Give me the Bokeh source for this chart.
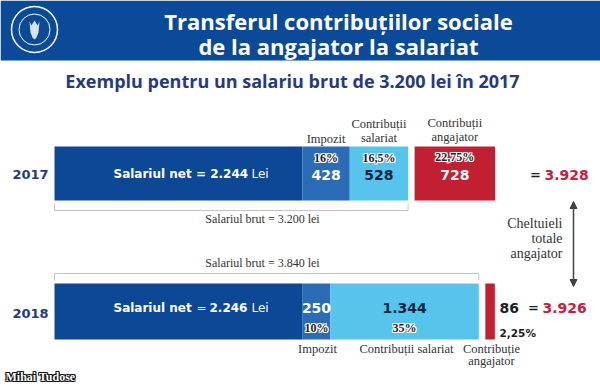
from bokeh.plotting import figure
from bokeh.models import Range1d, Arrow, NormalHead
from bokeh.core.properties import value
from bokeh.embed import file_html
from bokeh.resources import INLINE

# ---------------- data ----------------
years = ["2017", "2018"]
net = [2244, 2246]
impozit = [428, 250]
contrib_salariat = [528, 1344]
contrib_angajator = [728, 86]
impozit_pct = ["16%", "10%"]
salariat_pct = ["16,5%", "35%"]
angajator_pct = ["22,75%", "2,25%"]

title1 = "Transferul contribuțiilor sociale"
title2 = "de la angajator la salariat"
subtitle = "Exemplu pentru un salariu brut de 3.200 lei în 2017"
author = "Mihai Tudose"


def ro(v):
    return f"{v:,}".replace(",", ".")


brut = [n + i + c for n, i, c in zip(net, impozit, contrib_salariat)]
total = [b + a for b, a in zip(brut, contrib_angajator)]

# ---------------- styles ----------------
C_HEAD = "#0b4a98"
C_NET = "#0c4896"
C_IMP = "#2b6cb6"
C_SAL = "#56c4eb"
C_RED = "#c11f32"
C_NAVY = "#253b80"
C_RTXT = "#c8203a"
C_DARK = "#1e1e1e"
C_GRAY = "#c4c4c4"
C_SERIF = "#333333"

SANS = value("Open Sans")
WIDE = value("DejaVu Sans")
SERIF = value("Liberation Serif")

S = 0.1105   # pixels per leu
X0 = 54      # page x of 0 lei
W, H = 600, 388


def px(x):
    return (x - X0) / S


p = figure(width=W, height=H, output_backend="svg", toolbar_location=None,
           x_range=Range1d(px(0), px(W)), y_range=Range1d(H, 0),
           min_border=0, outline_line_color=None)
p.axis.visible = False
p.grid.visible = False
p.background_fill_color = "white"


def txt(x, y, t, size, color, font=SANS, style="bold", align="center", baseline="middle"):
    p.text(x=[x], y=[y], text=[t], text_font=font, text_font_size=size,
           text_font_style=style, text_color=color, text_align=align,
           text_baseline=baseline)


def halo(x, y, t, size, fill, edge, font=SERIF, style="bold", align="center"):
    for dx, dy in [(-1, 0), (1, 0), (0, -1), (0, 1), (-1, -1), (1, 1), (-1, 1), (1, -1)]:
        p.text(x=[x], y=[y], text=[t], x_offset=dx, y_offset=dy, text_font=font,
               text_font_size=size, text_font_style=style, text_color=edge,
               text_align=align, text_baseline="middle")
    txt(x, y, t, size, fill, font=font, style=style, align=align)


# ---------------- header ----------------
p.quad(left=[px(0)], right=[px(600)], top=[0], bottom=[60], fill_color=C_HEAD, line_color=None)
p.scatter(x=[px(34)], y=[29], size=46, fill_color=None, line_color="white", line_width=1.5)
p.scatter(x=[px(34)], y=[29], size=31, fill_color=None, line_color="white", line_width=1)
ex = [29, 31, 34, 37, 39, 38, 36, 34, 32, 30]
ey = [21, 25, 20, 25, 21, 32, 37, 39, 37, 32]
p.patch(x=[px(v) for v in ex], y=ey, fill_color="white", fill_alpha=0.85, line_color=None)
txt(px(338), 20, title1, "22px", "white")
txt(px(338), 45, title2, "22px", "white")
txt(px(292), 80, subtitle, "18px", C_NAVY)

# ---------------- bars ----------------
row_top = [146, 283]
row_bot = [200, 339]
gap = 6.5 / S

for k in range(2):
    a0 = 0
    a1 = a0 + net[k]
    a2 = a1 + impozit[k]
    a3 = a2 + contrib_salariat[k]
    a4 = a3 + gap
    a5 = a4 + contrib_angajator[k]
    p.quad(left=[a0, a1, a2, a4], right=[a1, a2, a3, a5],
           top=[row_top[k]] * 4, bottom=[row_bot[k]] * 4,
           fill_color=[C_NET, C_IMP, C_SAL, C_RED], line_color=None)

# ---- 2017 row ----
txt(px(30), 174, years[0], "13px", C_NAVY, font=WIDE)
txt(px(113), 173, "Salariul net = " + ro(net[0]), "12px", "white", font=WIDE, align="left")
txt(px(251), 173, "Lei", "12px", "white", font=WIDE, style="normal", align="left")
c_imp = net[0] + impozit[0] / 2
c_sal = net[0] + impozit[0] + contrib_salariat[0] / 2
c_ang = brut[0] + gap + contrib_angajator[0] / 2
halo(c_imp, 157, impozit_pct[0], "12px", C_DARK, "white")
halo(c_sal, 157, salariat_pct[0], "12px", C_DARK, "white")
halo(c_ang, 156, angajator_pct[0], "12px", C_DARK, "white")
txt(c_imp, 174, ro(impozit[0]), "14px", "white", font=WIDE)
txt(c_sal, 174, ro(contrib_salariat[0]), "14px", "#10233f", font=WIDE)
txt(c_ang, 174, ro(contrib_angajator[0]), "14px", "white", font=WIDE)
txt(c_imp, 138, "Impozit", "12.5px", C_SERIF, font=SERIF, style="normal")
txt(c_sal, 123, "Contribuții", "12.5px", C_SERIF, font=SERIF, style="normal")
txt(c_sal, 137, "salariat", "12.5px", C_SERIF, font=SERIF, style="normal")
txt(c_ang, 122, "Contribuții", "12.5px", C_SERIF, font=SERIF, style="normal")
txt(c_ang, 136, "angajator", "12.5px", C_SERIF, font=SERIF, style="normal")
txt(px(535), 174, "=", "13px", C_DARK, font=WIDE)
txt(px(544), 174, ro(total[0]), "14px", C_RTXT, font=WIDE, align="left")

# bracket 2017
p.segment(x0=[0, 0, brut[0]], y0=[210, 203, 203], x1=[brut[0], 0, brut[0]], y1=[210, 210, 210],
          line_color=C_GRAY, line_width=1)
txt(px(262), 218, "Salariul brut = " + ro(brut[0]) + " lei", "12px", C_SERIF,
    font=SERIF, style="normal")

# ---- 2018 row ----
txt(px(30), 313, years[1], "13px", C_NAVY, font=WIDE)
txt(px(113), 307, "Salariul net", "12px", "white", font=WIDE, align="left")
txt(px(201), 307, "=", "12px", "white", font=WIDE, style="normal")
txt(px(209), 307, ro(net[1]), "12px", "white", font=WIDE, align="left")
txt(px(251), 307, "Lei", "12px", "white", font=WIDE, style="normal", align="left")
d_imp = net[1] + impozit[1] / 2
d_sal = net[1] + impozit[1] + contrib_salariat[1] / 2
txt(d_imp, 307, ro(impozit[1]), "14px", "white", font=WIDE)
txt(d_sal, 307, ro(contrib_salariat[1]), "14px", "#10233f", font=WIDE)
halo(d_imp, 327, impozit_pct[1], "12px", C_DARK, "white")
halo(d_sal, 327, salariat_pct[1], "12px", C_DARK, "white")
txt(px(499), 307, ro(contrib_angajator[1]), "14px", C_DARK, font=WIDE, align="left")
txt(px(499), 332, angajator_pct[1], "10.5px", C_DARK, font=WIDE, align="left")
txt(px(533), 307, "=", "13px", C_DARK, font=WIDE)
txt(px(542), 307, ro(total[1]), "14px", C_RTXT, font=WIDE, align="left")
txt(px(317), 348, "Impozit", "12.5px", C_SERIF, font=SERIF, style="normal")
txt(px(406), 348, "Contribuții salariat", "12.5px", C_SERIF, font=SERIF, style="normal")
txt(px(491), 348, "Contribuție", "12.5px", C_SERIF, font=SERIF, style="normal")
txt(px(491), 360, "angajator", "12.5px", C_SERIF, font=SERIF, style="normal")

# bracket 2018
p.segment(x0=[0, 0, brut[1]], y0=[273, 273, 273], x1=[brut[1], 0, brut[1]], y1=[273, 280, 280],
          line_color=C_GRAY, line_width=1)
txt(px(262), 262, "Salariul brut = " + ro(brut[1]) + " lei", "12px", C_SERIF,
    font=SERIF, style="normal")

# ---- arrow & note ----
p.add_layout(Arrow(x_start=px(573), y_start=286, x_end=px(573), y_end=201,
                   line_color="#444444", line_width=1.5,
                   end=NormalHead(size=7, fill_color="#444444", line_color="#444444"),
                   start=NormalHead(size=7, fill_color="#444444", line_color="#444444")))
for i, t in enumerate(["Cheltuieli", "totale", "angajator"]):
    txt(px(562), 223 + 15 * i, t, "14px", C_SERIF, font=SERIF, style="normal", align="right")

# ---- author ----
halo(px(5), 376, author, "12px", "white", "#111111", font=value("Liberation Sans Narrow"),
     align="left")

open("out.html", "w").write(file_html(p, INLINE))
